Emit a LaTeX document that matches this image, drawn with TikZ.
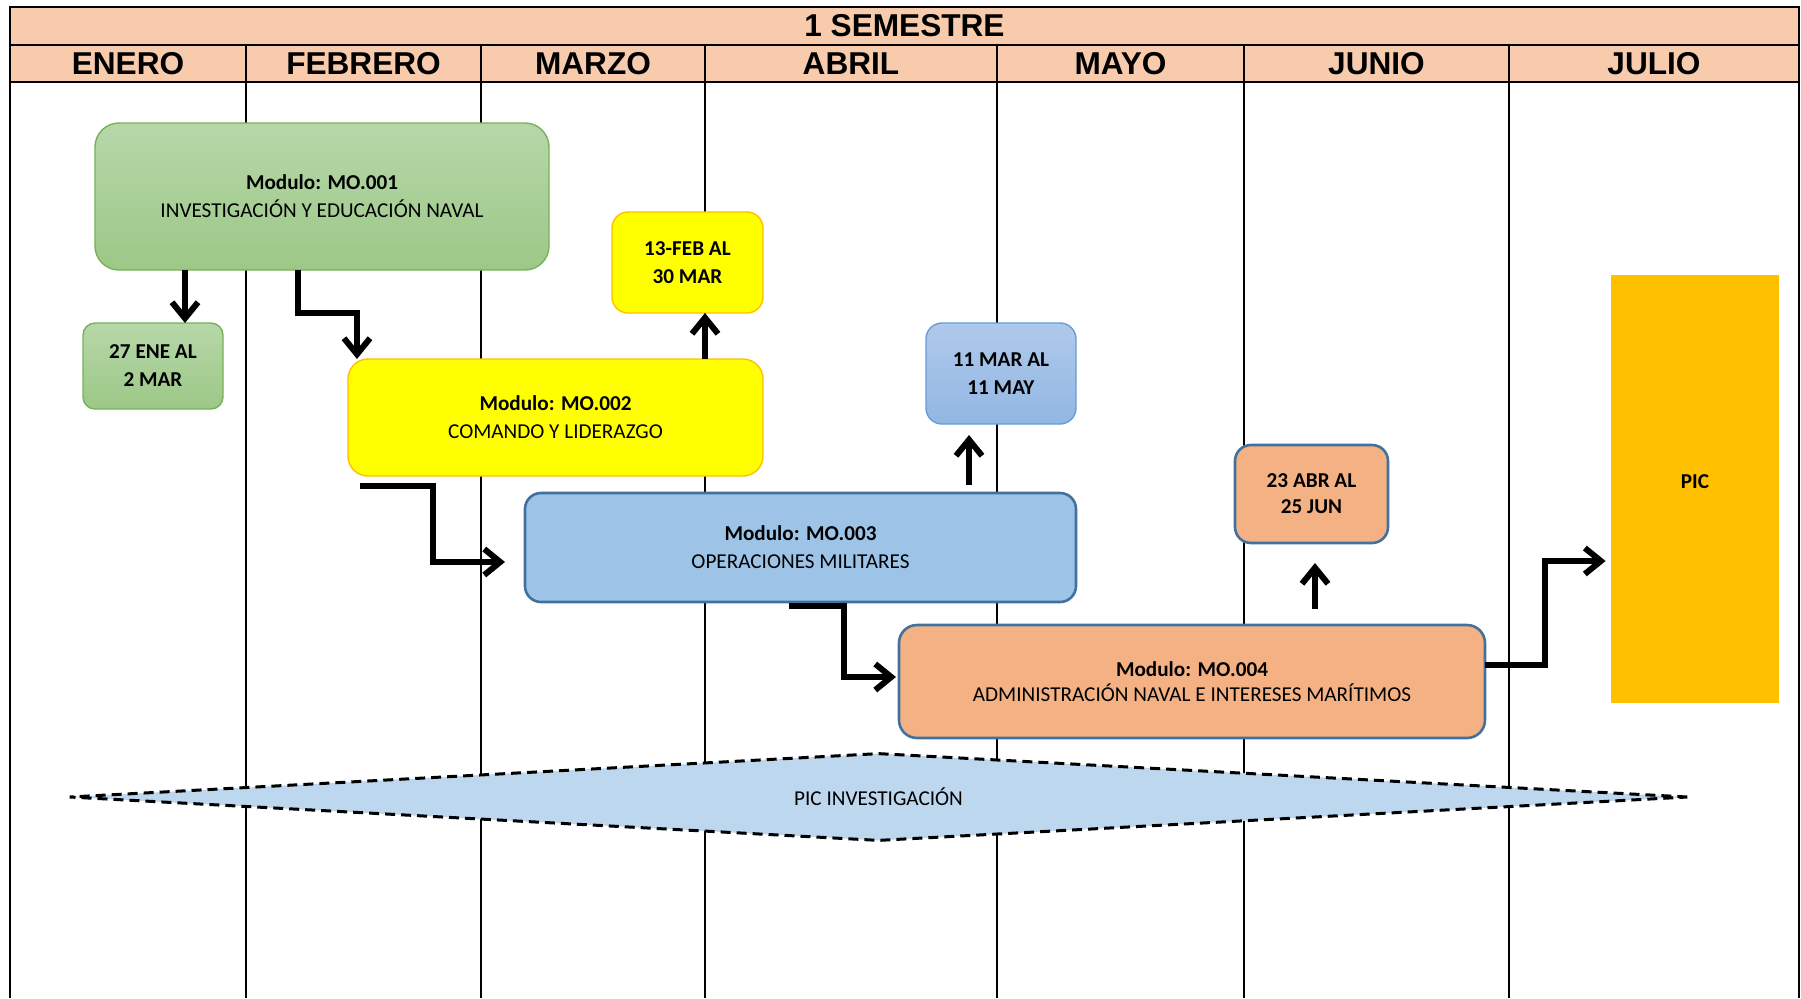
\documentclass[tikz,border=0pt]{standalone}
\usepackage{fontspec}
\setmainfont{Carlito}
\newfontfamily\hdrfont{Liberation Sans}
\usetikzlibrary{arrows.meta,shapes.geometric,calc}
\definecolor{hdr}{RGB}{248,203,173}
\definecolor{gtop}{RGB}{183,215,169}
\definecolor{gbot}{RGB}{156,200,135}
\definecolor{gbrd}{RGB}{118,178,88}
\definecolor{ylw}{RGB}{255,255,0}
\definecolor{ybrd}{RGB}{255,192,0}
\definecolor{btop}{RGB}{175,201,235}
\definecolor{bbot}{RGB}{146,183,227}
\definecolor{bbrd}{RGB}{106,155,216}
\definecolor{mblue}{RGB}{157,195,230}
\definecolor{dblue}{RGB}{65,113,156}
\definecolor{orng}{RGB}{244,177,131}
\definecolor{picc}{RGB}{255,192,0}
\definecolor{dia}{RGB}{189,215,238}
\begin{document}
\begin{tikzpicture}[x=0.5pt,y=-0.5pt,
  hdrtxt/.style={font=\hdrfont\bfseries\fontsize{15.8}{18}\selectfont},
  box/.style={font=\fontsize{10.6}{14}\selectfont, align=center, draw, inner sep=0pt, outer sep=0pt},
  greenbox/.style={box, top color=gtop, bottom color=gbot, draw=gbrd, line width=0.7pt},
  yellowbox/.style={box, fill=ylw, draw=ybrd, line width=0.7pt},
  lbluebox/.style={box, top color=btop, bottom color=bbot, draw=bbrd, line width=0.7pt},
  bluebox/.style={box, fill=mblue, draw=dblue, line width=1.3pt},
  orangebox/.style={box, fill=orng, draw=dblue, line width=1.3pt},
  arr/.style={line width=3pt, -{Straight Barb[length=8pt,width=13pt]}},
  vline/.style={line width=1pt},
  hline/.style={line width=1.1pt}]
\useasboundingbox (0,0) rectangle (1801,998);
\fill[white] (0,0) rectangle (1801,998);
% header
\filldraw[fill=hdr, hline] (10,7) rectangle (1799,45);
\filldraw[fill=hdr, hline] (10,45) rectangle (1799,82);
\node[hdrtxt] (sem) at (904.5,26) {1 SEMESTRE};
\foreach \xa/\xb/\nm in {10/246/ENERO, 246/481/FEBRERO, 481/705/MARZO, 705/997/ABRIL, 997/1244/MAYO, 1244/1509/JUNIO, 1509/1799/JULIO}{
  \node[hdrtxt] at ({(\xa+\xb)/2},64) {\nm};
}
\foreach \xx in {246,481,705,997,1244,1509}{
  \draw[hline] (\xx,45) -- (\xx,82);
}
\foreach \xx in {10,246,481,705,997,1244,1509,1799}{
  \draw[vline] (\xx,82) -- (\xx,998);
}
% boxes
\node[greenbox, rounded corners=12pt, minimum width=227pt, minimum height=73.5pt] (m1) at (322,196.5)
  {\textbf{Modulo: MO.001}\\INVESTIGACIÓN Y EDUCACIÓN NAVAL};
\node[greenbox, rounded corners=6pt, minimum width=70pt, minimum height=43pt] (d1) at (153,366)
  {\textbf{27 ENE AL}\\\textbf{2 MAR}};
\node[yellowbox, rounded corners=8pt, minimum width=75.5pt, minimum height=50.5pt] (d2) at (687.5,262.5)
  {\textbf{13-FEB AL}\\\textbf{30 MAR}};
\node[yellowbox, rounded corners=10pt, minimum width=207.5pt, minimum height=58.5pt] (m2) at (555.5,417.5)
  {\textbf{Modulo: MO.002}\\COMANDO Y LIDERAZGO};
\node[bluebox, rounded corners=8pt, minimum width=275.5pt, minimum height=54.5pt] (m3) at (800.5,547.5)
  {\textbf{Modulo: MO.003}\\OPERACIONES MILITARES};
\node[lbluebox, rounded corners=8pt, minimum width=75pt, minimum height=50.5pt] (d3) at (1001,373.5)
  {\textbf{11 MAR AL}\\\textbf{11 MAY}};
\node[orangebox, rounded corners=8pt, minimum width=76.5pt, minimum height=49pt, font=\fontsize{10.6}{13}\selectfont] (d4) at (1311.5,494)
  {\textbf{23 ABR AL}\\\textbf{25 JUN}};
\node[orangebox, rounded corners=9pt, minimum width=293pt, minimum height=56.5pt, font=\fontsize{10.6}{12.5}\selectfont] (m4) at (1192,681.5)
  {\textbf{Modulo: MO.004}\\ADMINISTRACIÓN NAVAL E INTERESES MARÍTIMOS};
\node[fill=picc, inner sep=0pt, minimum width=84pt, minimum height=214pt] (pic) at (1695,489) {};
\node[font=\bfseries\fontsize{10.6}{14}\selectfont] (pict) at ($(pic.center)+(0,-7)$) {PIC};
% diamond
\node[diamond, draw, fill=dia, line width=1.5pt, dash pattern=on 5pt off 3pt, inner sep=0pt, aspect=18,
  minimum width=809.5pt, minimum height=44pt, font=\fontsize{10.6}{14}\selectfont] (dm) at (878.5,797) {PIC INVESTIGACIÓN};
% connectors
\coordinate (x1) at (185,0);
\coordinate (x2) at (298,0);
\coordinate (x3) at (357,313);
\coordinate (x4) at (705,0);
\coordinate (x5) at (969,0);
\coordinate (x7) at (1315,0);
\draw[arr] (x1 |- m1.south) -- (x1 |- d1.north);
\draw[arr] (x2 |- m1.south) |- (x3) -- (x3 |- m2.north);
\draw[arr] (x4 |- m2.north) -- (x4 |- d2.south);
\draw[arr] ($(m2.south west)+(12,10)$) -| ($(m3.west)+(-92,14.5)$) -- ($(m3.west)+(-20,14.5)$);
\draw[arr] ($(x5 |- m3.north)+(0,-8)$) -- ($(x5 |- d3.south)+(0,11)$);
\draw[arr] ($(m3.south)+(-11.5,4)$) -| ($(m4.west)+(-55,-4.5)$) -- ($(m4.west)+(-3,-4.5)$);
\draw[arr] ($(x7 |- m4.north)+(0,-16)$) -- ($(x7 |- d4.south)+(0,20)$);
\draw[arr] ($(m4.east)+(0,-16.5)$) -| ($(pic.west)+(-66,72)$) -- ($(pic.west)+(-5,72)$);
\end{tikzpicture}
\end{document}
